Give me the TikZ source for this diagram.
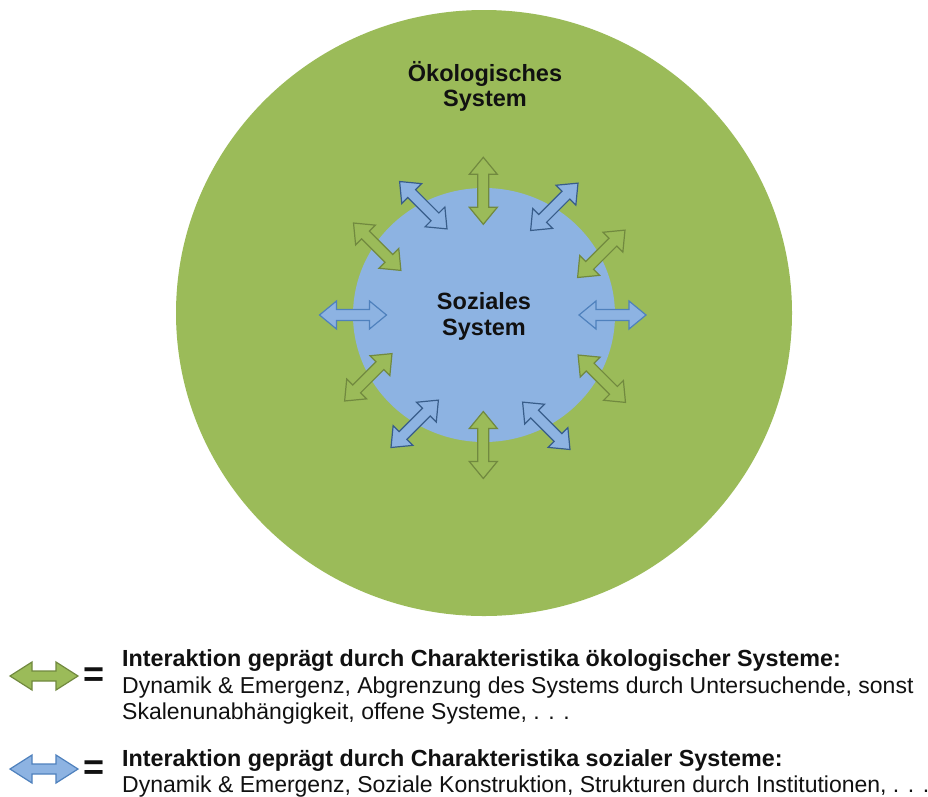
\documentclass[tikz,border=0pt]{standalone}
\usepackage{fontspec}
\setmainfont{Liberation Sans}
\usetikzlibrary{shapes.geometric}
\definecolor{ecogreen}{HTML}{9BBB59}
\definecolor{socblue}{HTML}{8DB3E2}
\definecolor{greenline}{HTML}{71893F}
\definecolor{blueline}{HTML}{385D8A}
\definecolor{bluelinelight}{HTML}{4F81BD}
\definecolor{txt}{HTML}{111111}
\tikzset{
  dblarrow/.pic={\path[pic actions] (-33.5,0) -- (-16.5,14) -- (-16.5,5.5) -- (16.5,5.5) -- (16.5,14) -- (33.5,0) -- (16.5,-14) -- (16.5,-5.5) -- (-16.5,-5.5) -- (-16.5,-14) -- cycle;},
  legarrow/.pic={\path[pic actions] (-34,0) -- (-12,14) -- (-12,5) -- (12,5) -- (12,14) -- (34,0) -- (12,-14) -- (12,-5) -- (-12,-5) -- (-12,-14) -- cycle;},
  greenarrow/.style={fill=ecogreen, draw=greenline, line width=1.2pt},
  bluearrow/.style={fill=socblue, draw=blueline, line width=1.2pt},
  bluearrowlight/.style={fill=socblue, draw=bluelinelight, line width=1.2pt},
  syslabel/.style={font=\bfseries\fontsize{23.5}{25}\selectfont, text=txt, inner sep=0pt, anchor=base},
  legtitle/.style={font=\bfseries\fontsize{23.3}{26}\selectfont, text=txt, anchor=base west, inner sep=0pt},
  legtext/.style={font=\fontsize{23}{26}\selectfont, text=txt, anchor=base west, inner sep=0pt},
  eqsign/.style={font=\bfseries\fontsize{36}{36}\selectfont, text=txt, inner sep=0pt}
}
\begin{document}
\begin{tikzpicture}[x=1pt,y=-1pt]
\fill[white] (0,0) rectangle (928,796);
\useasboundingbox (0,0) rectangle (928,796);

% systems
\node[ellipse, fill=ecogreen, minimum width=616pt, minimum height=606pt, inner sep=0pt] (eco) at (484,313) {};
\node[ellipse, fill=socblue, minimum width=262pt, minimum height=254pt, inner sep=0pt] (soc) at (484,315) {};

% interaction arrows
\pic[greenarrow, rotate=90] at (483.3,190.8) {dblarrow};
\pic[bluearrow, rotate=45] at (554.3,206.8) {dblarrow};
\pic[greenarrow, rotate=45] at (601.3,253.8) {dblarrow};
\pic[bluearrowlight] at (612.5,315) {dblarrow};
\pic[greenarrow, rotate=-45] at (601.8,378.7) {dblarrow};
\pic[bluearrow, rotate=-45] at (546.3,425.8) {dblarrow};
\pic[greenarrow, rotate=90] at (483.3,445) {dblarrow};
\pic[bluearrow, rotate=45] at (414.7,423.8) {dblarrow};
\pic[greenarrow, rotate=45] at (368.3,377.3) {dblarrow};
\pic[bluearrowlight] at (353,315) {dblarrow};
\pic[greenarrow, rotate=-45] at (377.2,246.7) {dblarrow};
\pic[bluearrow, rotate=-45] at (423.3,205.2) {dblarrow};

% labels
\node[syslabel] (ecoA) at (485,81.7) {Ökologisches};
\node[syslabel] (ecoB) at (485,106.7) {System};
\node[syslabel] (socA) at (484,309) {Soziales};
\node[syslabel] (socB) at (484,335) {System};

% legend
\pic[greenarrow] at (44,676) {legarrow};
\node[eqsign] (eqA) at (94,677) {=};
\node[legtitle] (legA1) at (122,666.7) {Interaktion geprägt durch Charakteristika ökologischer Systeme:};
\node[legtext] (legA2) at (122,693) {Dynamik \& Emergenz, Abgrenzung des Systems durch Untersuchende, sonst};
\node[legtext] (legA3) at (122,719.5) {Skalenunabhängigkeit, offene Systeme, . . .};

\pic[bluearrowlight] at (44,769) {legarrow};
\node[eqsign] (eqB) at (94,770) {=};
\node[legtitle] (legB1) at (122,766.5) {Interaktion geprägt durch Charakteristika sozialer Systeme:};
\node[legtext] (legB2) at (122,792.5) {Dynamik \& Emergenz, Soziale Konstruktion, Strukturen durch Institutionen, . . .};
\end{tikzpicture}
\end{document}
